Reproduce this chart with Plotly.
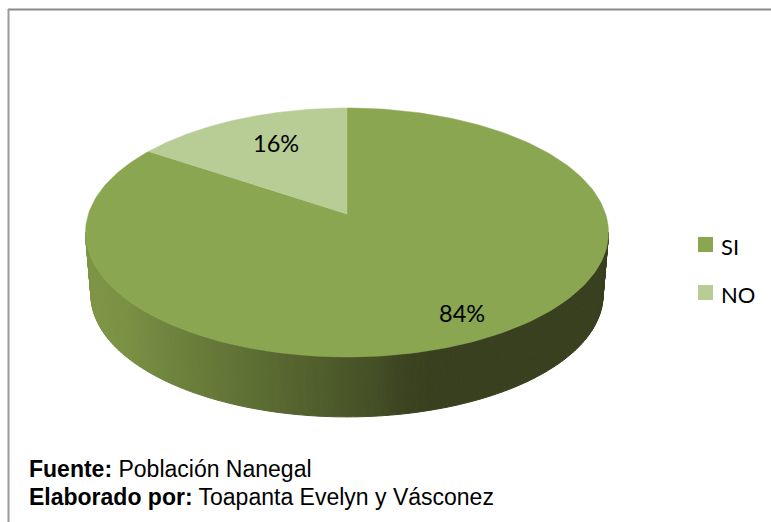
import math
import numpy as np
import plotly.graph_objects as go

# ---- data ----
categories = ["SI", "NO"]
values = [84.4, 15.6]
slice_colors = ["#8aa650", "#b8cd96"]
footer_lines = ["<b>Fuente:</b> Población Nanegal",
                "<b>Elaborado por:</b> Toapanta Evelyn y Vásconez"]

# ---- tilted-disc geometry (pixels) ----
W, H = 771, 522
CX, APEX_Y = 347.0, 214.0
A, B, PERSP = 258.6, 121.75, 0.1486      # perspective projection of the unit disc
RX, RY, CY = 261.5, 124.5, 232.5         # the resulting outline ellipse
WALL_SCALE, WALL_CY = 0.979, 295.0       # lower rim of the side wall
WALL_STOPS = [(92, (125, 149, 69)), (125, (122, 145, 68)), (160, (113, 134, 63)),
              (260, (92, 109, 51)), (360, (72, 83, 39)), (380, (68, 78, 37)),
              (400, (60, 68, 33)), (430, (57, 64, 31)), (610, (57, 64, 31))]


def project(frac, r=1.0):
    """Clockwise-from-top fraction of the disc to a pixel position."""
    a = 2 * math.pi * frac
    u, v = r * math.sin(a), r * math.cos(a)
    w = 1 + PERSP * v
    return CX + A * u / w, APEX_Y - B * v / w


def wall_color(x):
    xs = [s[0] for s in WALL_STOPS]
    rgb = [np.interp(x, xs, [s[1][i] for s in WALL_STOPS]) for i in range(3)]
    return "rgb(%d,%d,%d)" % tuple(round(c) for c in rgb)


fig = go.Figure()

# side wall, drawn as thin vertical bands across the front of the disc
ts = np.linspace(math.pi, 0, 181)
for t0, t1 in zip(ts[:-1], ts[1:]):
    top = [(CX + RX * math.cos(t), CY + RY * math.sin(t)) for t in (t0, t1)]
    bot = [(CX + WALL_SCALE * RX * math.cos(t), WALL_CY + WALL_SCALE * RY * math.sin(t))
           for t in (t1, t0)]
    pts = top + bot + top[:1]
    color = wall_color((top[0][0] + top[1][0]) / 2)
    fig.add_trace(go.Scatter(x=[p[0] for p in pts], y=[p[1] for p in pts], mode="lines",
                             fill="toself", fillcolor=color, line=dict(color=color, width=1),
                             hoverinfo="skip", showlegend=False))

# top faces, SI starts at 12 o'clock and runs clockwise
total = sum(values)
start = 0.0
label_specs = [(0.80, 6, -3), (0.70, 7, 2)]
annotations = []
for name, val, color, (lab_r, dx, dy) in zip(categories, values, slice_colors, label_specs):
    frac = val / total
    fr = np.linspace(start, start + frac, 240)
    rim = [project(f) for f in fr]
    xs = [CX] + [p[0] for p in rim] + [CX]
    ys = [APEX_Y] + [p[1] for p in rim] + [APEX_Y]
    fig.add_trace(go.Scatter(x=xs, y=ys, mode="lines", fill="toself", fillcolor=color,
                             line=dict(color=color, width=0.5), name=name,
                             hoverinfo="name", showlegend=False))
    lx, ly = project(start + frac / 2, lab_r)
    annotations.append(dict(x=lx, y=ly, xref="x", yref="y", text=f"{round(val)}%",
                            showarrow=False, xshift=dx, yshift=dy,
                            font=dict(family="Lato", size=23.5, color="#000000")))
    start += frac

# legend
for name, color, ly in zip(categories, slice_colors, (244.5, 292.5)):
    fig.add_trace(go.Scatter(x=[705.5], y=[ly], mode="markers", name=name,
                             marker=dict(symbol="square", size=15, color=color),
                             hoverinfo="name", showlegend=False))
    annotations.append(dict(x=719, y=ly + 2, xref="x", yref="y", xanchor="left", yanchor="middle",
                            text=name, showarrow=False,
                            font=dict(family="Lato", size=22, color="#000000")))

# footer
for line, mid in zip(footer_lines, (468.5, 497)):
    annotations.append(dict(x=27, y=mid, xref="x", yref="y", xanchor="left", yanchor="middle",
                            text=line, showarrow=False, align="left",
                            font=dict(family="Liberation Sans", size=23, color="#000000")))

shapes = [dict(type="line", x0=8, x1=W, y0=9.5, y1=9.5, line=dict(color="#8a8a8a", width=2)),
          dict(type="line", x0=8.5, x1=8.5, y0=9, y1=H, line=dict(color="#9a9a9a", width=2))]

fig.update_layout(width=W, height=H, margin=dict(l=0, r=0, t=0, b=0),
                  paper_bgcolor="white", plot_bgcolor="white",
                  xaxis=dict(range=[0, W], visible=False, fixedrange=True),
                  yaxis=dict(range=[H, 0], visible=False, fixedrange=True),
                  annotations=annotations, shapes=shapes, showlegend=False)
fig.write_html("out.html", config=dict(displayModeBar=False),
               post_script="document.body.style.margin='0';document.body.style.overflow='hidden';")
